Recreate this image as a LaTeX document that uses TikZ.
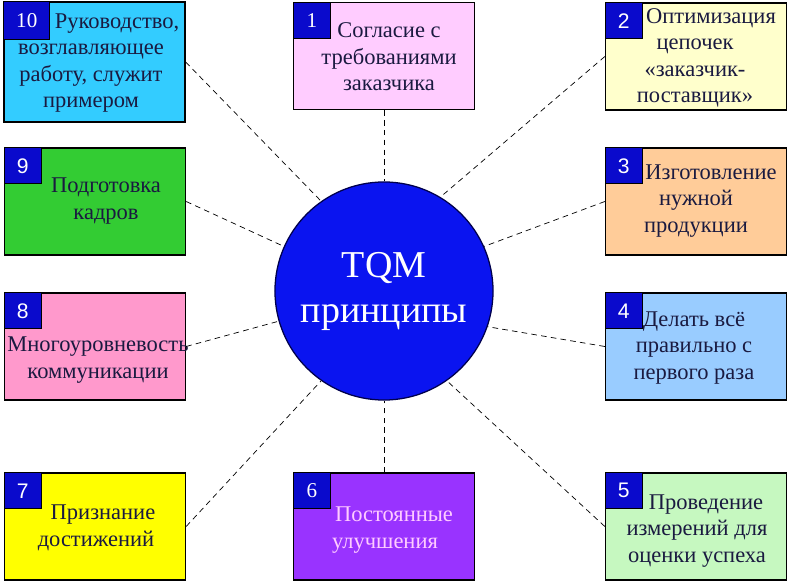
\documentclass[tikz,border=0pt]{standalone}
\usepackage{fontspec}
\setmainfont{Liberation Serif}
\setsansfont{Liberation Sans}
\usetikzlibrary{positioning}
\definecolor{Ink}{HTML}{1A1A40}
\definecolor{NumBlue}{HTML}{0A0ACC}
\definecolor{CoreBlue}{HTML}{0A14F0}
\definecolor{Cyan}{HTML}{33CCFF}
\definecolor{PalePink}{HTML}{FFCCFF}
\definecolor{PaleYellow}{HTML}{FFFFCC}
\definecolor{Green}{HTML}{33CC33}
\definecolor{PaleOrange}{HTML}{FFCC99}
\definecolor{Pink}{HTML}{FF99CC}
\definecolor{PaleBlue}{HTML}{99CCFF}
\definecolor{Yellow}{HTML}{FFFF00}
\definecolor{Violet}{HTML}{9933FF}
\definecolor{PaleGreen}{HTML}{C6F8C0}
\tikzset{
  card/.style={draw=black,line width=0.9pt,minimum width=4.525cm,
              minimum height=2.675cm,inner sep=0pt},
  cardtext/.style={align=center,inner sep=0pt,text=Ink,
              font=\fontsize{16}{18.8}\selectfont},
  numbox/.style={draw=black,line width=0.6pt,fill=NumBlue,anchor=north west,
              minimum width=0.925cm,minimum height=0.9cm,inner sep=0pt,
              text=white,font=\fontsize{15}{17}\selectfont},
  sansnum/.style={numbox,font=\sffamily\fontsize{15}{17}\selectfont},
  link/.style={draw=black,line width=0.5pt,dash pattern=on 4pt off 3pt}
}
\begin{document}
\begin{tikzpicture}[x=0.025cm,y=-0.025cm]
  \useasboundingbox (0,0) rectangle (790,584);
  % centre
  \node[circle,draw=black!70!blue,line width=0.9pt,fill=CoreBlue,
        minimum size=5.45cm,inner sep=0pt,align=center,text=white,
        font=\fontsize{27}{32}\selectfont] (core) at (384,291) {TQM\\принципы};
  % cards
  \node[card,fill=Cyan,minimum height=3cm] (b10) at (94.5,62) {};
  \node[card,fill=PalePink] (b1) at (384,56) {};
  \node[card,fill=PaleYellow] (b2) at (696,56.5) {};
  \node[card,fill=Green] (b9) at (95,201.5) {};
  \node[card,fill=PaleOrange] (b3) at (696,201.5) {};
  \node[card,fill=Pink] (b8) at (95,346.5) {};
  \node[card,fill=PaleBlue] (b4) at (696,346.5) {};
  \node[card,fill=Yellow] (b7) at (95,526.5) {};
  \node[card,fill=Violet] (b6) at (384,526.5) {};
  \node[card,fill=PaleGreen] (b5) at (696,526.5) {};
  % texts
  \node[cardtext] (t10) at (91,63) {\hspace*{1.3cm}Руководство,\\возглавляющее\\работу, служит\\примером};
  \node[cardtext] (t1) at (389,57) {Согласие с\\требованиями\\заказчика};
  \node[cardtext] (t2) at (695,58) {\hspace*{0.8cm}Оптимизация\\цепочек\\«заказчик-\\поставщик»};
  \node[cardtext] (t9) at (106,201) {Подготовка\\кадров};
  \node[cardtext] (t3) at (696,201) {\hspace*{0.75cm}Изготовление\\нужной\\продукции};
  \node[cardtext] (t8) at (98,360) {Многоуровневость\\коммуникации};
  \node[cardtext] (t4) at (694,348) {Делать всё\\правильно с\\первого раза};
  \node[cardtext] (t7) at (96,528) {\hspace*{0.35cm}Признание\\достижений};
  \node[cardtext,text=PalePink] (t6) at (385,530) {\hspace*{0.45cm}Постоянные\\улучшения};
  \node[cardtext] (t5) at (697,531) {\hspace*{0.45cm}Проведение\\измерений для\\оценки успеха};
  % numbers
  \node[numbox,minimum width=1.15cm,minimum height=0.95cm] (n10) at (b10.north west) {10};
  \node[numbox] (n1) at (b1.north west) {1};
  \node[sansnum] (n2) at (b2.north west) {2};
  \node[sansnum] (n9) at (b9.north west) {9};
  \node[sansnum] (n3) at (b3.north west) {3};
  \node[sansnum] (n8) at (b8.north west) {8};
  \node[sansnum] (n4) at (b4.north west) {4};
  \node[sansnum] (n7) at (b7.north west) {7};
  \node[numbox] (n6) at (b6.north west) {6};
  \node[sansnum] (n5) at (b5.north west) {5};
  % spokes
  \draw[link] (b10.east) -- (core.125);
  \draw[link] (b1.south) -- (core.north);
  \draw[link] (b2.west) -- (core.59);
  \draw[link] (b9.east) -- (core.156);
  \draw[link] (b3.west) -- (core.24);
  \draw[link] (b8.east) -- (core.196);
  \draw[link] (b4.west) -- (core.341);
  \draw[link] (b7.east) -- (core.235);
  \draw[link] (b6.north) -- (core.south);
  \draw[link] (b5.west) -- (core.305);
\end{tikzpicture}
\end{document}
